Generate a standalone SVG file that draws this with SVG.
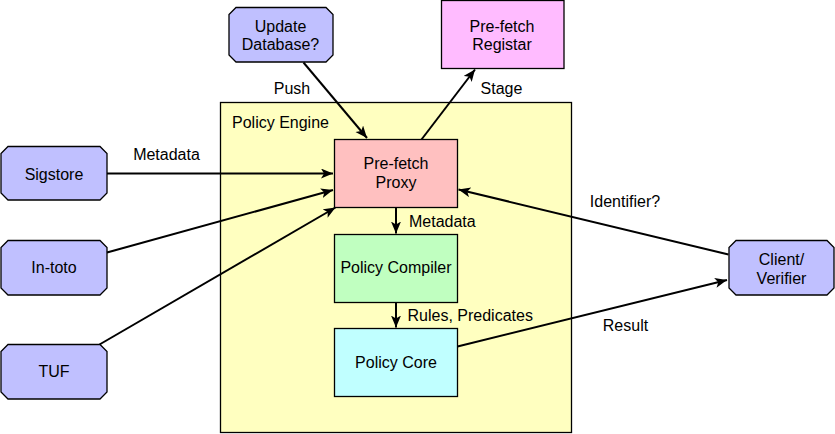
<svg xmlns="http://www.w3.org/2000/svg" width="835" height="434" viewBox="0 0 835 434">
<defs>
<style>
text{font-family:"Liberation Sans",Arial,Helvetica,sans-serif;font-size:16px;fill:#000}
.c{text-anchor:middle}
.oct{fill:#C0C0FF;stroke:#000;stroke-width:1.3}
.box{stroke:#000;stroke-width:1.3}
.edge{fill:none;stroke:#000;stroke-width:2;marker-end:url(#arr)}
</style>
<marker id="arr" markerUnits="userSpaceOnUse" markerWidth="14" markerHeight="12" refX="12" refY="5" orient="auto" viewBox="0 0 14 12">
<path d="M0,0 L12,5 L0,10 L3,5 Z" fill="#000"/>
</marker>
</defs>
<rect width="835" height="434" fill="#fff"/>

<g id="policy-engine">
<rect x="220.5" y="102.5" width="351" height="330" fill="#FFFFC0" class="box"/>
<text x="232" y="128">Policy Engine</text>
</g>

<g id="update-database">
<path class="oct" d="M236,7.5 H326 L333,14.5 V55 L326,62 H236 L229,55 V14.5 Z"/>
<text class="c" x="280.5" y="31.5">Update</text>
<text class="c" x="280.5" y="50">Database?</text>
</g>

<g id="registar">
<rect x="441.5" y="0.5" width="122.5" height="68" fill="#FFBBFF" class="box"/>
<text class="c" x="502" y="31.5">Pre-fetch</text>
<text class="c" x="502" y="50">Registar</text>
</g>

<g id="sigstore">
<path class="oct" d="M8,146.5 H100 L107,153.5 V193 L100,200 H8 L1,193 V153.5 Z"/>
<text class="c" x="54" y="179.5">Sigstore</text>
</g>

<g id="in-toto">
<path class="oct" d="M8,240.5 H100 L107,247.5 V288 L100,295 H8 L1,288 V247.5 Z"/>
<text class="c" x="54" y="273">In-toto</text>
</g>

<g id="tuf">
<path class="oct" d="M8,344.5 H100 L107,351.5 V392 L100,399 H8 L1,392 V351.5 Z"/>
<text class="c" x="54" y="377">TUF</text>
</g>

<g id="client-verifier">
<path class="oct" d="M736,240.5 H827 L834,247.5 V288 L827,295 H736 L729,288 V247.5 Z"/>
<text class="c" x="781.5" y="265">Client/</text>
<text class="c" x="781.5" y="283.5">Verifier</text>
</g>

<g id="prefetch-proxy">
<rect x="334.5" y="139.5" width="123" height="68" fill="#FFC0C0" class="box"/>
<text class="c" x="396" y="169">Pre-fetch</text>
<text class="c" x="396" y="188">Proxy</text>
</g>

<g id="policy-compiler">
<rect x="334.5" y="234.5" width="123" height="68" fill="#C0FFC0" class="box"/>
<text class="c" x="396" y="273">Policy Compiler</text>
</g>

<g id="policy-core">
<rect x="334.5" y="328.5" width="123" height="68" fill="#C0FFFF" class="box"/>
<text class="c" x="396" y="368">Policy Core</text>
</g>

<g id="connectors">
<path class="edge" d="M303.5,62.5 L367,138"/>
<path class="edge" d="M421.5,139.5 L475,69.5"/>
<path class="edge" d="M107,173.5 L333,173.5"/>
<path class="edge" d="M107,252.5 L333,190"/>
<path class="edge" d="M99.5,344.5 L335.5,207.5"/>
<path class="edge" d="M396,207.5 L396,233.5"/>
<path class="edge" d="M396,302.5 L396,327.5"/>
<path class="edge" d="M728.5,254.5 L458.5,189.5"/>
<path class="edge" d="M457.5,346.5 L727,280"/>
<text class="c" x="292" y="94">Push</text>
<text class="c" x="501.5" y="94">Stage</text>
<text class="c" x="166.5" y="160">Metadata</text>
<text x="409" y="227">Metadata</text>
<text x="407.5" y="321">Rules, Predicates</text>
<text class="c" x="625" y="207">Identifier?</text>
<text class="c" x="625.5" y="331">Result</text>
</g>
</svg>
